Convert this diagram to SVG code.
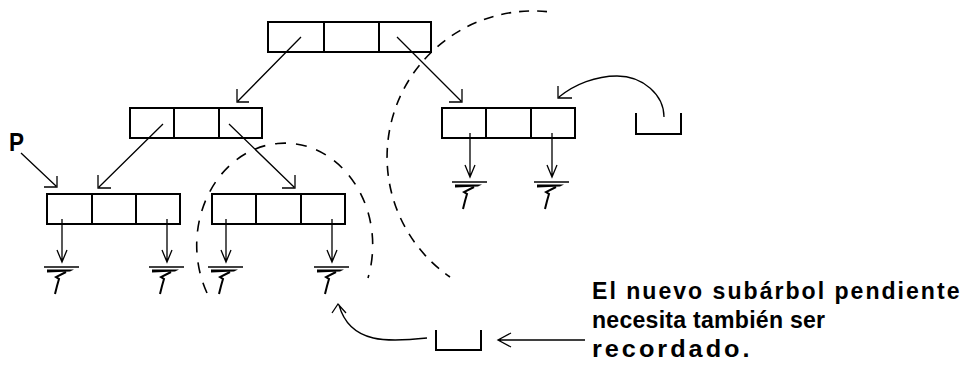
<svg xmlns="http://www.w3.org/2000/svg" width="970" height="369" viewBox="0 0 970 369">
  <style>
    .box { fill: #fff; stroke: #000; stroke-width: 2; }
    .div { stroke: #000; stroke-width: 2; }
    .ln { fill: none; stroke: #000; stroke-width: 1.3; }
    .cup { fill: none; stroke: #000; stroke-width: 2; }
    .big { fill: none; stroke: #000; stroke-width: 1.6; stroke-dasharray: 10 8; }
    .small { fill: none; stroke: #000; stroke-width: 1.6; stroke-dasharray: 11 10; }
    .lbl { font-family: "Liberation Sans", Arial, sans-serif; font-weight: bold; font-size: 22px; fill: #000; }
  </style>
  <defs>
    <!-- null pointer (ground) symbol, origin at the top bar centre -->
    <g id="ground">
      <line x1="-18" y1="0" x2="17" y2="0" stroke="#000" stroke-width="1.5"/>
      <polygon points="-15,2.5 12,2.5 8,4.5 -15,5.5" fill="#000"/>
      <path d="M4,5 L-6,10 L-3,12 L-5,19 L-7,27" fill="none" stroke="#000" stroke-width="2"/>
    </g>
  </defs>

  <!-- tree nodes: three-cell records -->
  <g id="node-root">
    <rect class="box" x="268" y="22" width="163" height="30"/>
    <line class="div" x1="324" y1="22" x2="324" y2="52"/>
    <line class="div" x1="379" y1="22" x2="379" y2="52"/>
  </g>
  <g id="node-left">
    <rect class="box" x="130" y="108" width="132" height="30"/>
    <line class="div" x1="174" y1="108" x2="174" y2="138"/>
    <line class="div" x1="219" y1="108" x2="219" y2="138"/>
  </g>
  <g id="node-right">
    <rect class="box" x="442" y="108" width="133" height="30"/>
    <line class="div" x1="486" y1="108" x2="486" y2="138"/>
    <line class="div" x1="531" y1="108" x2="531" y2="138"/>
  </g>
  <g id="node-left-left">
    <rect class="box" x="47" y="194" width="133" height="30"/>
    <line class="div" x1="92" y1="194" x2="92" y2="224"/>
    <line class="div" x1="136" y1="194" x2="136" y2="224"/>
  </g>
  <g id="node-left-right">
    <rect class="box" x="212" y="194" width="133" height="30"/>
    <line class="div" x1="256" y1="194" x2="256" y2="224"/>
    <line class="div" x1="301" y1="194" x2="301" y2="224"/>
  </g>

  <!-- pending-subtree stack slots -->
  <g id="slot-top">
    <path class="cup" d="M636,113 V134 H681 V113"/>
  </g>
  <g id="slot-bottom">
    <path class="cup" d="M436,330 V350 H481 V330"/>
  </g>

  <!-- pointer label -->
  <g id="label-p">
    <text class="lbl" transform="translate(9,151) scale(1,1.15)" textLength="15" lengthAdjust="spacingAndGlyphs">P</text>
  </g>

  <!-- dashed subtree outlines -->
  <g id="outlines">
    <path class="big" d="M547,11.6 A146 146 0 0 0 450,277"/>
    <path class="small" d="M207,293 A88 102 0 1 1 368,278"/>
  </g>

  <!-- pointers -->
  <g id="connectors">
    <!-- root -> children -->
    <path class="ln" d="M301,37 L238,101 M237,89 V102 H249"/>
    <path class="ln" d="M397,37 L461,101 M462,89 V102 H449"/>
    <!-- left node -> children -->
    <path class="ln" d="M163,124 L99,187 M98,175 V188 H111"/>
    <path class="ln" d="M229,124 L294,187 M295,175 V188 H282"/>
    <!-- P -> leftmost node -->
    <path class="ln" d="M21,153 L56,186 M57,176 V187 H44"/>
    <!-- null pointers -->
    <path class="ln" d="M62,219 V262 M57,250 L62,262 L67,250"/>
    <path class="ln" d="M167,219 V262 M162,250 L167,262 L172,250"/>
    <path class="ln" d="M226,219 V262 M221,250 L226,262 L231,250"/>
    <path class="ln" d="M332,219 V262 M327,250 L332,262 L337,250"/>
    <path class="ln" d="M470,133 V177 M465,165 L470,177 L475,165"/>
    <path class="ln" d="M552,133 V177 M547,165 L552,177 L557,165"/>
    <!-- slot -> saved subtree -->
    <path class="ln" d="M664,117 C664,95 643,76 617,76 C596,76 575,84 559,97 M558,86 V98 H572"/>
    <path class="ln" d="M427,338 C390,342 350,345 339,305 M332,313 L338,304 L346,313"/>
    <!-- note -> slot -->
    <path class="ln" d="M585,340 H499 M511,333 L498,340 L511,347"/>
  </g>

  <!-- null markers -->
  <g id="nulls">
    <use href="#ground" x="62" y="267"/>
    <use href="#ground" x="167" y="267"/>
    <use href="#ground" x="226" y="267"/>
    <use href="#ground" x="332" y="267"/>
    <use href="#ground" x="470" y="182"/>
    <use href="#ground" x="552" y="182"/>
  </g>

  <!-- note -->
  <g id="note">
    <text class="lbl" transform="translate(592,299) scale(1.05,1.08)" textLength="350" lengthAdjust="spacing">El nuevo subárbol pendiente</text>
    <text class="lbl" transform="translate(592,328) scale(1.05,1.08)" textLength="222" lengthAdjust="spacing">necesita también ser</text>
    <text class="lbl" transform="translate(592,357) scale(1.15,1.08)" textLength="137" lengthAdjust="spacing">recordado.</text>
  </g>
</svg>
